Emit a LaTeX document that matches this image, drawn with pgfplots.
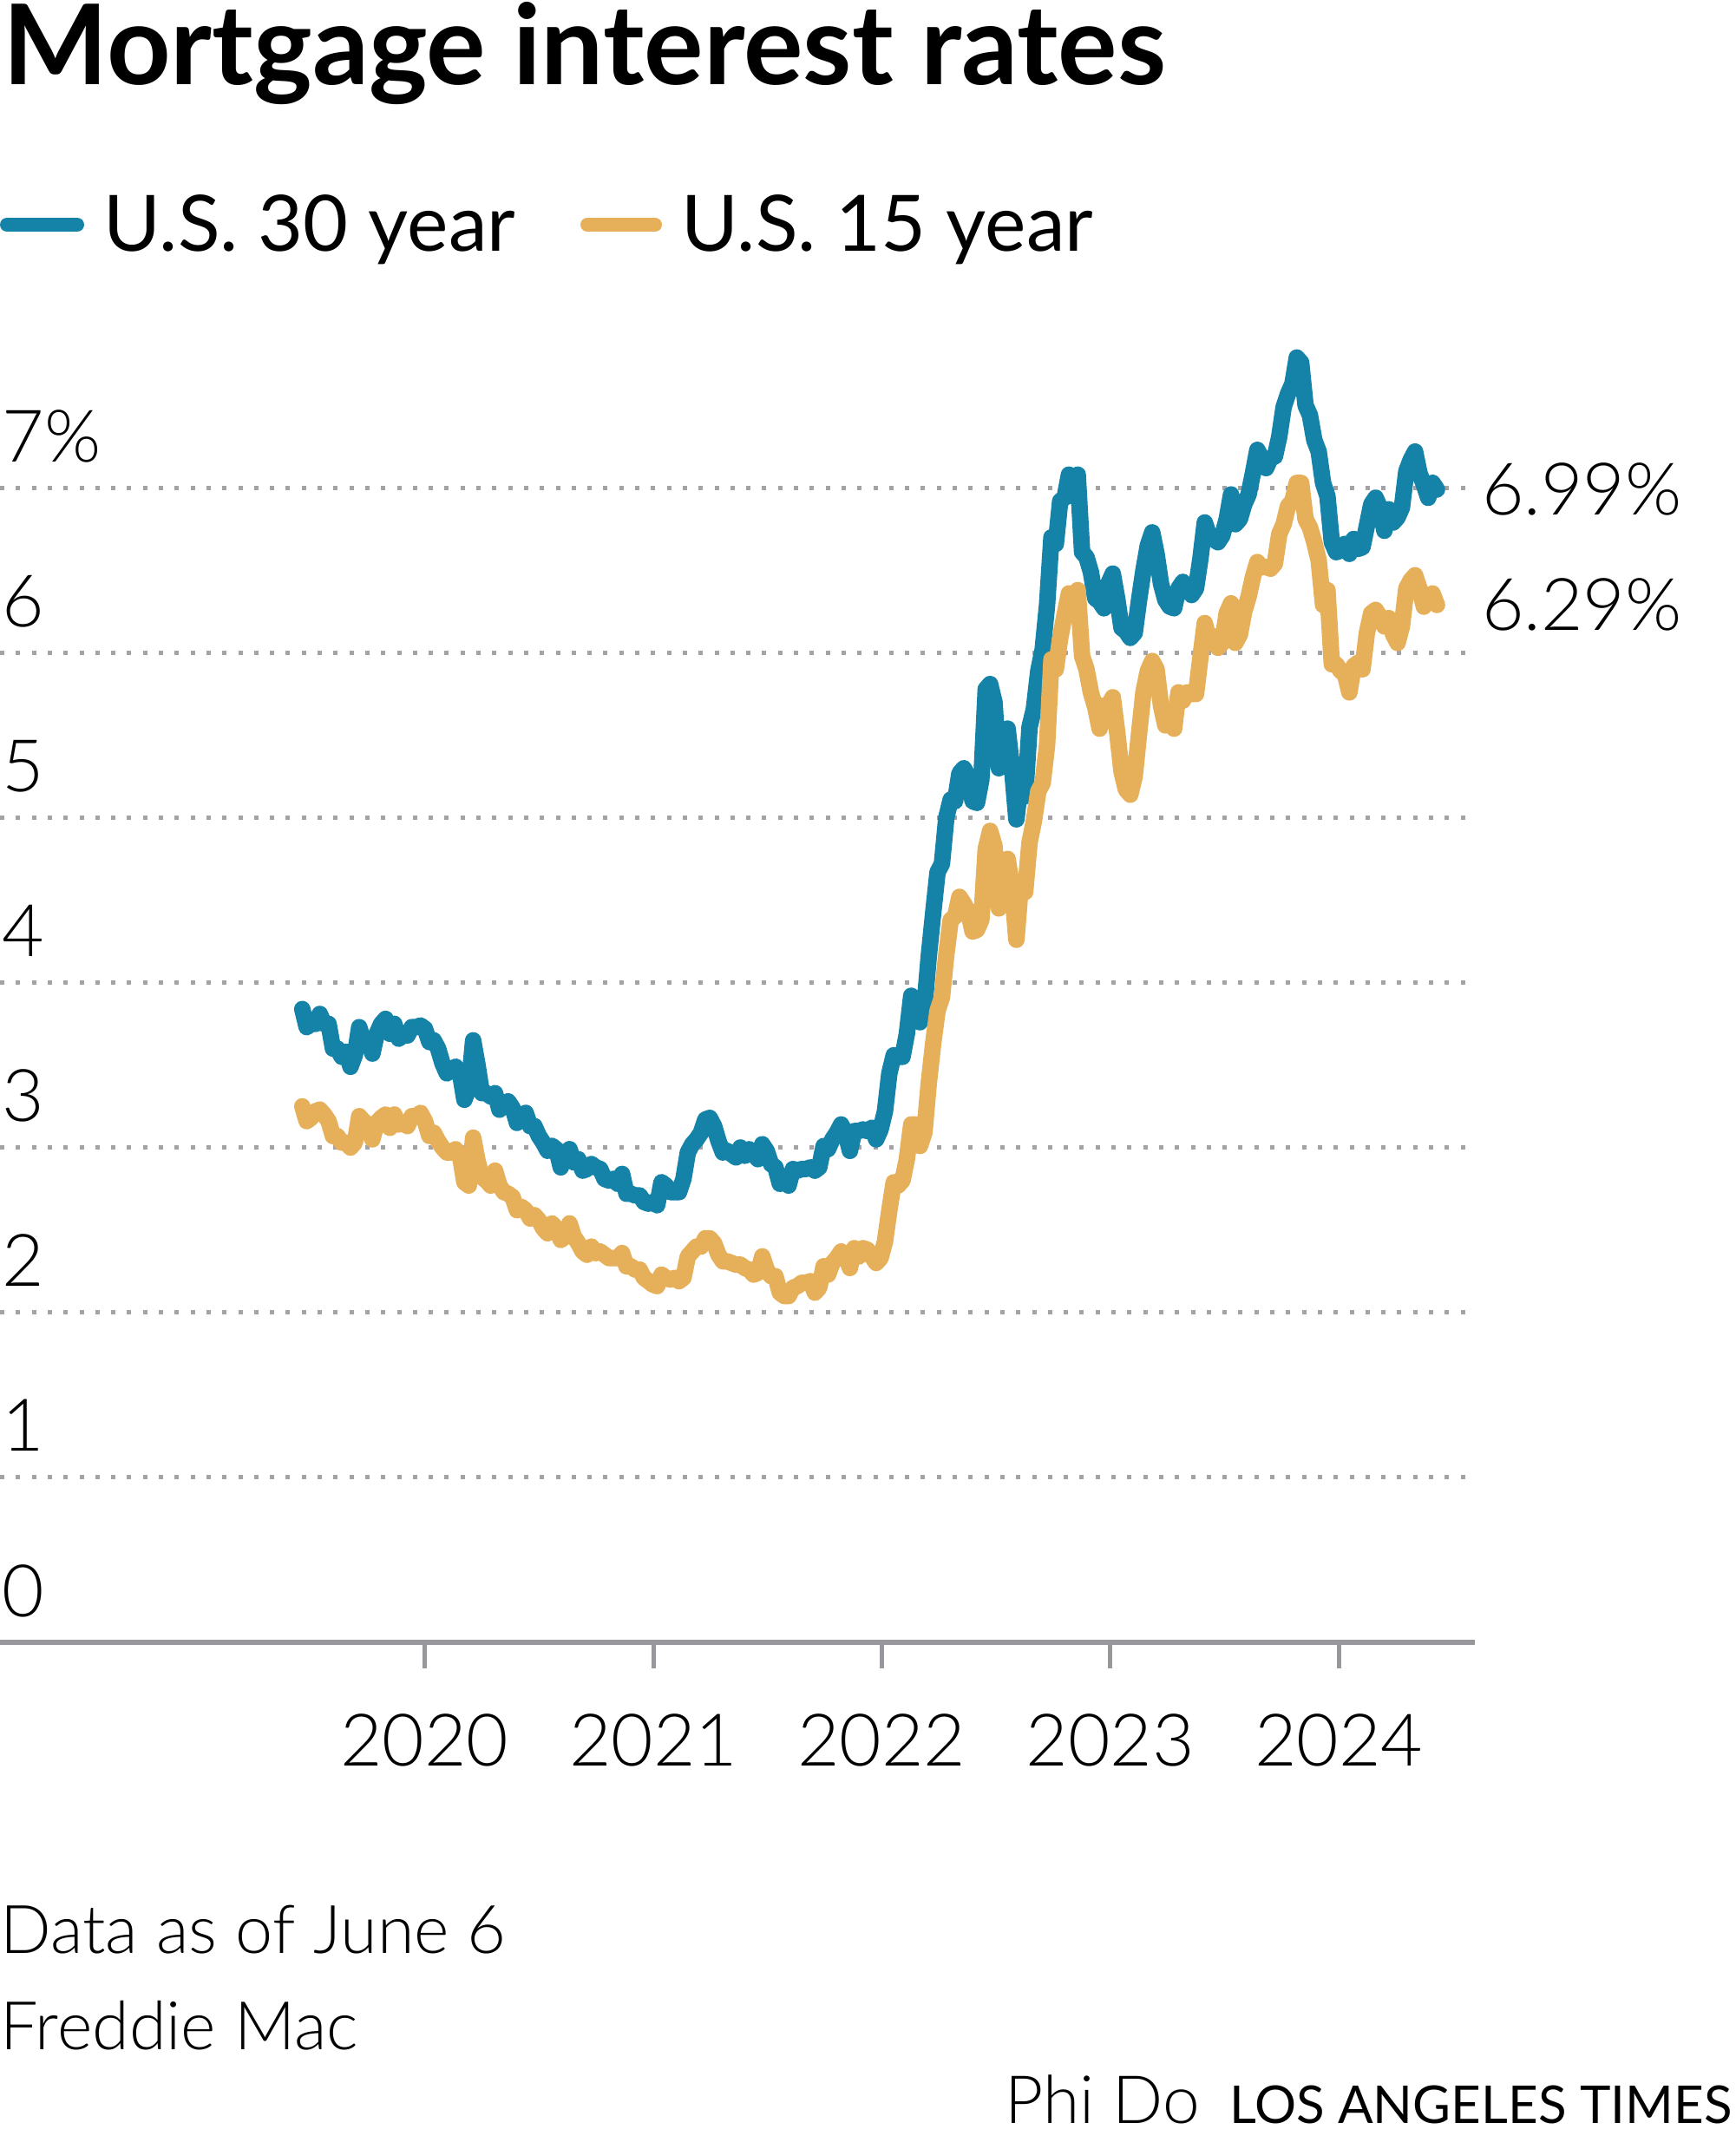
\documentclass[border=0pt]{standalone}
\usepackage{fontspec}
\setmainfont{Lato}[UprightFont=* Light, BoldFont=* Bold]
\newfontfamily\latoreg{Lato}
\newfontfamily\latobold{Lato}[UprightFont=* Bold]
\usepackage{pgfplots}
\pgfplotsset{compat=1.18}
\usepackage{pgfplotstable}
\usepgfplotslibrary{dateplot}
\definecolor{blue30}{HTML}{1582A8}
\definecolor{orange15}{HTML}{E6AF5A}
\definecolor{gridgray}{HTML}{A3A3A7}
\definecolor{axisgray}{HTML}{98989C}

\pgfplotstableread{
date r30 r15
2019-06-20 3.84 3.25
2019-06-27 3.73 3.16
2019-07-04 3.75 3.18
2019-07-11 3.75 3.22
2019-07-18 3.81 3.23
2019-07-25 3.75 3.20
2019-08-01 3.75 3.16
2019-08-08 3.60 3.07
2019-08-15 3.60 3.07
2019-08-22 3.55 3.03
2019-08-29 3.58 3.03
2019-09-05 3.49 3.00
2019-09-12 3.56 3.03
2019-09-19 3.73 3.19
2019-09-26 3.64 3.16
2019-10-03 3.65 3.14
2019-10-10 3.57 3.05
2019-10-17 3.69 3.15
2019-10-24 3.75 3.18
2019-10-31 3.78 3.20
2019-11-07 3.69 3.12
2019-11-14 3.75 3.20
2019-11-21 3.66 3.14
2019-11-28 3.68 3.15
2019-12-05 3.68 3.13
2019-12-12 3.73 3.19
2019-12-19 3.73 3.19
2019-12-26 3.74 3.21
2020-01-02 3.72 3.16
2020-01-09 3.64 3.07
2020-01-16 3.65 3.09
2020-01-23 3.60 3.04
2020-01-30 3.51 3.00
2020-02-06 3.45 2.97
2020-02-13 3.47 2.97
2020-02-20 3.49 2.99
2020-02-27 3.45 2.95
2020-03-05 3.29 2.79
2020-03-12 3.36 2.77
2020-03-19 3.65 3.06
2020-03-26 3.50 2.92
2020-04-02 3.33 2.82
2020-04-09 3.33 2.80
2020-04-16 3.31 2.77
2020-04-23 3.33 2.86
2020-04-30 3.23 2.77
2020-05-07 3.26 2.73
2020-05-14 3.28 2.72
2020-05-21 3.24 2.70
2020-05-28 3.15 2.62
2020-06-04 3.18 2.64
2020-06-11 3.21 2.62
2020-06-18 3.13 2.57
2020-06-25 3.13 2.59
2020-07-02 3.07 2.56
2020-07-09 3.03 2.51
2020-07-16 2.98 2.48
2020-07-23 3.01 2.54
2020-07-30 2.99 2.51
2020-08-06 2.88 2.44
2020-08-13 2.96 2.46
2020-08-20 2.99 2.54
2020-08-27 2.91 2.46
2020-09-03 2.93 2.42
2020-09-10 2.86 2.37
2020-09-17 2.87 2.35
2020-09-24 2.90 2.40
2020-10-01 2.88 2.36
2020-10-08 2.87 2.37
2020-10-15 2.81 2.35
2020-10-22 2.80 2.33
2020-10-29 2.81 2.33
2020-11-05 2.78 2.33
2020-11-12 2.84 2.36
2020-11-19 2.72 2.28
2020-11-26 2.72 2.28
2020-12-03 2.71 2.26
2020-12-10 2.71 2.26
2020-12-17 2.67 2.21
2020-12-24 2.66 2.19
2020-12-31 2.67 2.17
2021-01-07 2.65 2.16
2021-01-14 2.79 2.23
2021-01-21 2.77 2.21
2021-01-28 2.73 2.20
2021-02-04 2.73 2.21
2021-02-11 2.73 2.19
2021-02-18 2.81 2.21
2021-02-25 2.97 2.34
2021-03-04 3.02 2.37
2021-03-11 3.05 2.40
2021-03-18 3.09 2.40
2021-03-25 3.17 2.45
2021-04-01 3.18 2.45
2021-04-08 3.13 2.42
2021-04-15 3.04 2.35
2021-04-22 2.97 2.31
2021-04-29 2.98 2.31
2021-05-06 2.96 2.30
2021-05-13 2.94 2.29
2021-05-20 3.00 2.29
2021-05-27 2.95 2.27
2021-06-03 2.99 2.26
2021-06-10 2.96 2.23
2021-06-17 2.93 2.24
2021-06-24 3.02 2.34
2021-07-01 2.98 2.26
2021-07-08 2.90 2.22
2021-07-15 2.88 2.22
2021-07-22 2.78 2.12
2021-07-29 2.80 2.10
2021-08-05 2.77 2.10
2021-08-12 2.87 2.15
2021-08-19 2.86 2.16
2021-08-26 2.87 2.18
2021-09-02 2.87 2.18
2021-09-09 2.88 2.19
2021-09-16 2.86 2.12
2021-09-23 2.88 2.15
2021-09-30 3.01 2.28
2021-10-07 2.99 2.23
2021-10-14 3.05 2.30
2021-10-21 3.09 2.33
2021-10-28 3.14 2.37
2021-11-04 3.09 2.35
2021-11-11 2.98 2.27
2021-11-18 3.10 2.39
2021-11-25 3.10 2.34
2021-12-02 3.11 2.39
2021-12-09 3.10 2.38
2021-12-16 3.12 2.34
2021-12-23 3.05 2.30
2021-12-30 3.11 2.33
2022-01-06 3.22 2.43
2022-01-13 3.45 2.62
2022-01-20 3.56 2.79
2022-01-27 3.55 2.77
2022-02-03 3.55 2.80
2022-02-10 3.69 2.93
2022-02-17 3.92 3.14
2022-02-24 3.89 3.14
2022-03-03 3.76 3.01
2022-03-10 3.85 3.09
2022-03-17 4.16 3.39
2022-03-24 4.42 3.63
2022-03-31 4.67 3.83
2022-04-07 4.72 3.91
2022-04-14 5.00 4.17
2022-04-21 5.11 4.38
2022-04-28 5.10 4.40
2022-05-05 5.27 4.52
2022-05-12 5.30 4.48
2022-05-19 5.25 4.43
2022-05-26 5.10 4.31
2022-06-02 5.09 4.32
2022-06-09 5.23 4.38
2022-06-16 5.78 4.81
2022-06-23 5.81 4.92
2022-06-30 5.70 4.83
2022-07-07 5.30 4.45
2022-07-14 5.51 4.67
2022-07-21 5.54 4.75
2022-07-28 5.30 4.58
2022-08-04 4.99 4.26
2022-08-11 5.22 4.59
2022-08-18 5.13 4.55
2022-08-25 5.55 4.85
2022-09-01 5.66 4.98
2022-09-08 5.89 5.16
2022-09-15 6.02 5.21
2022-09-22 6.29 5.44
2022-09-29 6.70 5.96
2022-10-06 6.66 5.90
2022-10-13 6.92 6.09
2022-10-20 6.94 6.23
2022-10-27 7.08 6.36
2022-11-03 6.95 6.29
2022-11-10 7.08 6.38
2022-11-17 6.61 5.98
2022-11-24 6.58 5.90
2022-12-01 6.49 5.76
2022-12-08 6.33 5.67
2022-12-15 6.31 5.54
2022-12-22 6.27 5.68
2022-12-29 6.42 5.68
2023-01-05 6.48 5.73
2023-01-12 6.33 5.52
2023-01-19 6.15 5.28
2023-01-26 6.13 5.17
2023-02-02 6.09 5.14
2023-02-09 6.12 5.25
2023-02-16 6.32 5.51
2023-02-23 6.50 5.76
2023-03-02 6.65 5.89
2023-03-09 6.73 5.95
2023-03-16 6.60 5.90
2023-03-23 6.42 5.68
2023-03-30 6.32 5.56
2023-04-06 6.28 5.64
2023-04-13 6.27 5.54
2023-04-20 6.39 5.76
2023-04-27 6.43 5.71
2023-05-04 6.39 5.76
2023-05-11 6.35 5.75
2023-05-18 6.39 5.75
2023-05-25 6.57 5.97
2023-06-01 6.79 6.18
2023-06-08 6.71 6.07
2023-06-15 6.69 6.10
2023-06-22 6.67 6.03
2023-06-29 6.71 6.06
2023-07-06 6.81 6.24
2023-07-13 6.96 6.30
2023-07-20 6.78 6.06
2023-07-27 6.81 6.11
2023-08-03 6.90 6.25
2023-08-10 6.96 6.34
2023-08-17 7.09 6.46
2023-08-24 7.23 6.55
2023-08-31 7.18 6.52
2023-09-07 7.12 6.52
2023-09-14 7.18 6.51
2023-09-21 7.19 6.54
2023-09-28 7.31 6.72
2023-10-05 7.49 6.78
2023-10-12 7.57 6.89
2023-10-19 7.63 6.92
2023-10-26 7.79 7.03
2023-11-02 7.76 7.03
2023-11-09 7.50 6.81
2023-11-16 7.44 6.76
2023-11-23 7.29 6.67
2023-11-30 7.22 6.56
2023-12-07 7.03 6.29
2023-12-14 6.95 6.38
2023-12-21 6.67 5.93
2023-12-28 6.61 5.93
2024-01-04 6.62 5.89
2024-01-11 6.66 5.87
2024-01-18 6.60 5.76
2024-01-25 6.69 5.92
2024-02-01 6.63 5.94
2024-02-08 6.64 5.90
2024-02-15 6.77 6.12
2024-02-22 6.90 6.24
2024-02-29 6.94 6.26
2024-03-07 6.88 6.22
2024-03-14 6.74 6.16
2024-03-21 6.87 6.21
2024-03-28 6.79 6.11
2024-04-04 6.82 6.06
2024-04-11 6.88 6.16
2024-04-18 7.10 6.39
2024-04-25 7.17 6.44
2024-05-02 7.22 6.47
2024-05-09 7.09 6.39
2024-05-16 7.02 6.28
2024-05-23 6.94 6.34
2024-05-30 7.03 6.36
2024-06-06 6.99 6.29
}\rates

\begin{document}
\begin{tikzpicture}
\useasboundingbox (0mm,0mm) rectangle (200mm,-247.7mm);
% title
\node[anchor=base west, inner sep=0pt] at (0.3mm,-9.8mm)
  {\fontsize{36.5}{40}\selectfont\latobold Mortgage interest rates};
% legend
\draw[blue30, line width=1.6mm, line cap=round] (0.8mm,-25.9mm) -- (8.9mm,-25.9mm);
\node[anchor=base west, inner sep=0pt] at (11.9mm,-29.0mm)
  {\fontsize{25.5}{30}\selectfont\latoreg U.S. 30 year};
\draw[orange15, line width=1.6mm, line cap=round] (67.7mm,-25.9mm) -- (75.5mm,-25.9mm);
\node[anchor=base west, inner sep=0pt] at (78.5mm,-29.0mm)
  {\fontsize{25.5}{30}\selectfont\latoreg U.S. 15 year};

\begin{axis}[
  at={(0mm,-189.3mm)}, anchor=south west,
  scale only axis, width=170.03mm, height=152.08mm,
  date coordinates in=x,
  xmin=2018-02-22, xmax=2024-08-06,
  ymin=0, ymax=8,
  clip=false,
  axis lines*=left,
  y axis line style={draw=none},
  x axis line style={draw=axisgray, line width=0.6mm},
  tick align=outside,
  major tick length=3mm,
  xtick={2020-01-01,2021-01-01,2022-01-01,2023-01-01,2024-01-01},
  xticklabel=\year,
  xtick style={draw=axisgray, line width=0.5mm},
  ytick={0,1,2,3,4,5,6,7},
  yticklabels={0,1,2,3,4,5,6,7\%},
  ytick style={draw=none},
  ymajorgrids,
  major grid style={draw=gridgray, line width=0.5mm, dash pattern=on 0.5mm off 1.33mm, line cap=butt},
  every tick label/.append style={font=\fontsize{23.8}{28}\selectfont},
  yticklabel style={anchor=base west, inner sep=0pt, yshift=3mm, xshift=3.2mm},
  xticklabel style={anchor=base, inner sep=0pt, yshift=-11.2mm},
]
\addplot[blue30, line width=1.9mm, line join=round, line cap=round] table[x=date, y=r30] {\rates};
\addplot[orange15, line width=1.9mm, line join=round, line cap=round] table[x=date, y=r15] {\rates};
\node[anchor=west, inner sep=0pt, font=\fontsize{23.8}{28}\selectfont, xshift=5.1mm] at (axis cs:2024-06-06,6.99) {6.99\%};
\node[anchor=west, inner sep=0pt, font=\fontsize{23.8}{28}\selectfont, xshift=5.1mm] at (axis cs:2024-06-06,6.29) {6.29\%};
\end{axis}

% footer
\node[anchor=base west, inner sep=0pt] at (0mm,-225.1mm)
  {\fontsize{22}{26}\selectfont Data as of June 6};
\node[anchor=base west, inner sep=0pt] at (0mm,-236.2mm)
  {\fontsize{22}{26}\selectfont Freddie Mac};
\node[anchor=base west, inner sep=0pt] at (115.8mm,-244.7mm)
  {\fontsize{21.8}{26}\selectfont Phi Do};
\node[anchor=base east, inner sep=0pt] at (199.7mm,-244.7mm)
  {\fontsize{17.1}{20}\selectfont\latoreg LOS ANGELES TIMES};
\end{tikzpicture}
\end{document}
